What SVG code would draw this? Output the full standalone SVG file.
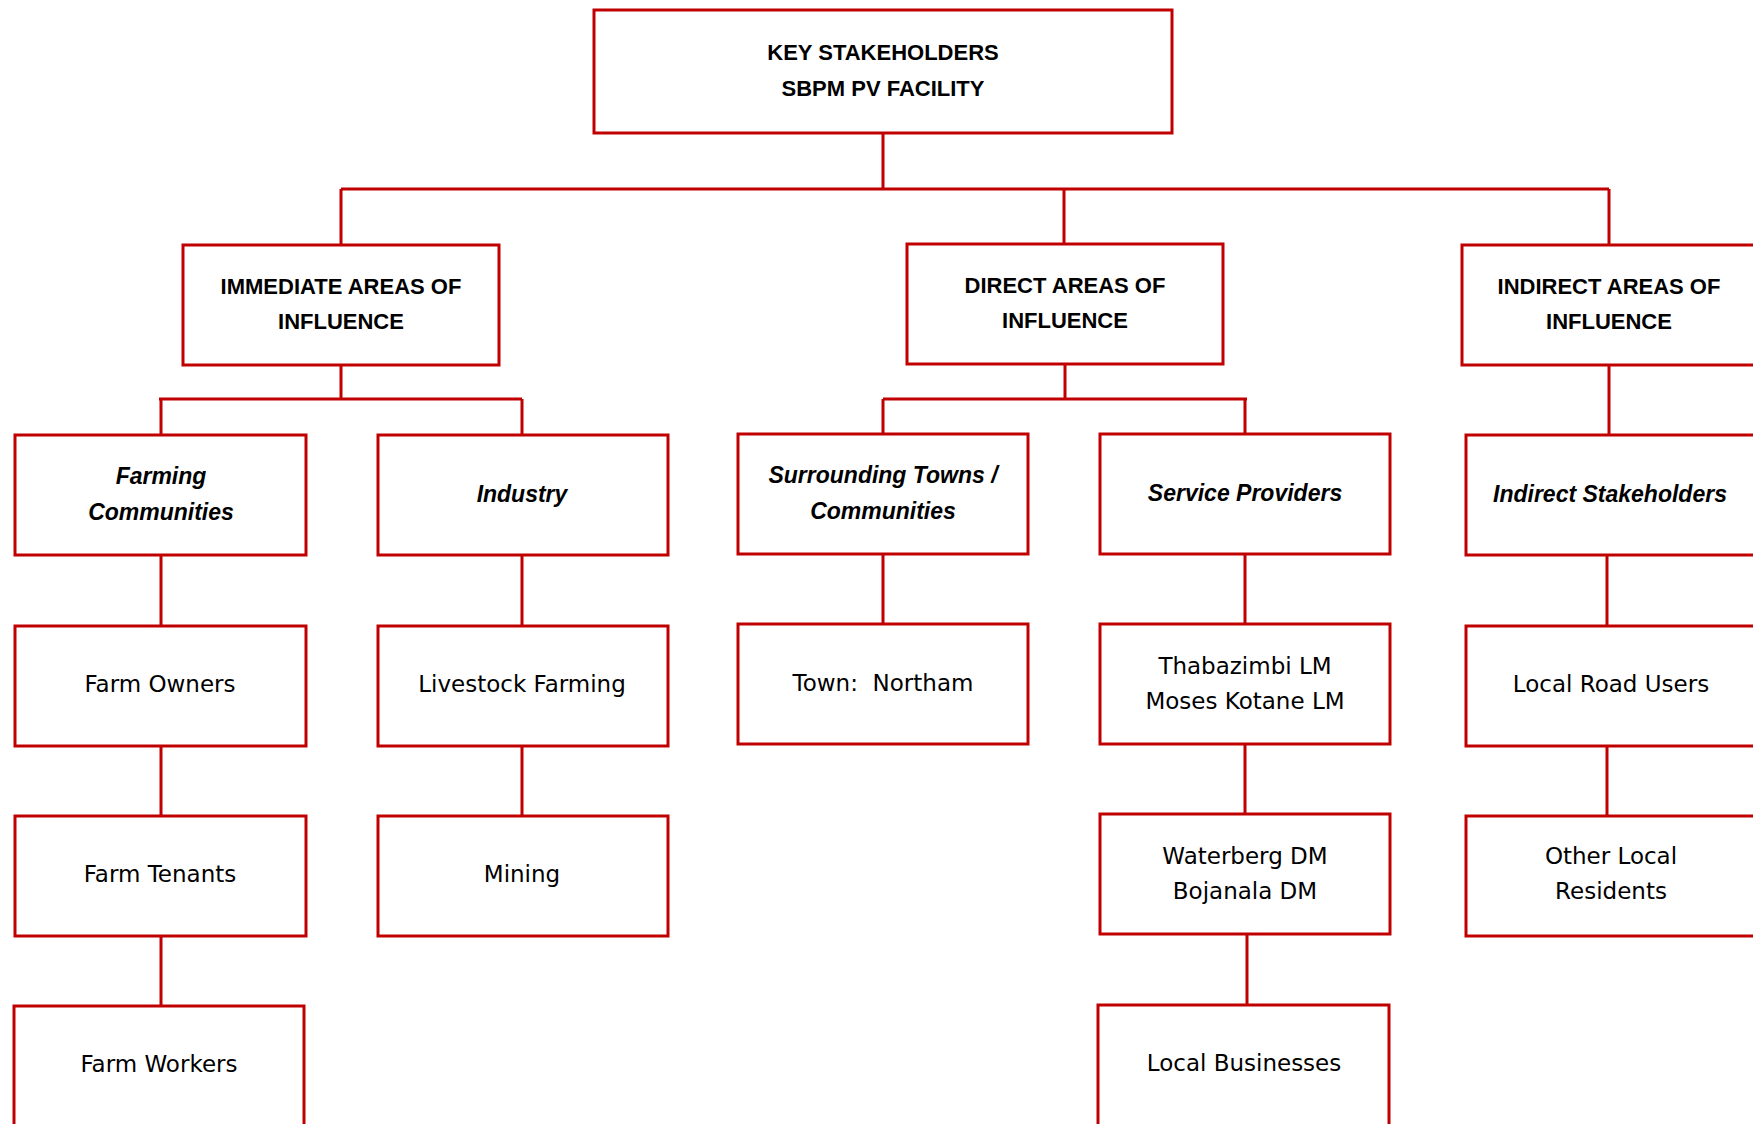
<svg xmlns="http://www.w3.org/2000/svg" width="1753" height="1124" viewBox="0 0 1753 1124">
<style>
rect{fill:#fff;stroke:#C00000;stroke-width:3}
.c{fill:none;stroke:#C00000;stroke-width:3}
text{text-anchor:middle;fill:#000}
.h{font-family:"Liberation Sans",Arial,sans-serif;font-weight:bold;font-size:22px}
.i{font-family:"Liberation Sans",Arial,sans-serif;font-weight:bold;font-style:italic;font-size:23px}
.r{font-family:"DejaVu Sans",sans-serif;font-size:23px}
</style>
<rect x="0" y="0" width="1753" height="1124" style="stroke:none"/>
<g id="connectors">
<path class="c" d="M883 133V189M341 189H1609M341 189V245M1064 189V244M1609 189V245"/>
<path class="c" d="M341 365V399M159 399H522M161 399V435M522 399V435"/>
<path class="c" d="M161 555V626M161 746V816M161 936V1006M522 555V626M522 746V816"/>
<path class="c" d="M1065 364V399M883 399H1247M883 399V434M1245 399V434"/>
<path class="c" d="M883 554V624M1245 554V624M1245 744V814M1247 934V1005"/>
<path class="c" d="M1609 365V435M1607 555V626M1607 746V816"/>
</g>
<g id="key-stakeholders"><rect x="594" y="10" width="578" height="123"/><text class="h" x="883" y="60">KEY STAKEHOLDERS</text><text class="h" x="883" y="96">SBPM PV FACILITY</text></g>
<g id="immediate"><rect x="183" y="245" width="316" height="120"/><text class="h" x="341" y="294">IMMEDIATE AREAS OF</text><text class="h" x="341" y="329">INFLUENCE</text></g>
<g id="direct"><rect x="907" y="244" width="316" height="120"/><text class="h" x="1065" y="293">DIRECT AREAS OF</text><text class="h" x="1065" y="328">INFLUENCE</text></g>
<g id="indirect"><rect x="1462" y="245" width="300" height="120"/><text class="h" x="1609" y="294">INDIRECT AREAS OF</text><text class="h" x="1609" y="329">INFLUENCE</text></g>
<g id="farming"><rect x="15" y="435" width="291" height="120"/><text class="i" x="161" y="484">Farming</text><text class="i" x="161" y="520">Communities</text></g>
<g id="industry"><rect x="378" y="435" width="290" height="120"/><text class="i" x="522" y="502">Industry</text></g>
<g id="surrounding"><rect x="738" y="434" width="290" height="120"/><text class="i" x="883" y="483">Surrounding Towns /</text><text class="i" x="883" y="519">Communities</text></g>
<g id="service"><rect x="1100" y="434" width="290" height="120"/><text class="i" x="1245" y="501">Service Providers</text></g>
<g id="indirect-stakeholders"><rect x="1466" y="435" width="296" height="120"/><text class="i" x="1610" y="502">Indirect Stakeholders</text></g>
<g id="farm-owners"><rect x="15" y="626" width="291" height="120"/><text class="r" x="160" y="692">Farm Owners</text></g>
<g id="farm-tenants"><rect x="15" y="816" width="291" height="120"/><text class="r" x="160" y="882">Farm Tenants</text></g>
<g id="farm-workers"><rect x="14" y="1006" width="290" height="130"/><text class="r" x="159" y="1072">Farm Workers</text></g>
<g id="livestock"><rect x="378" y="626" width="290" height="120"/><text class="r" x="522" y="692">Livestock Farming</text></g>
<g id="mining"><rect x="378" y="816" width="290" height="120"/><text class="r" x="522" y="882">Mining</text></g>
<g id="town"><rect x="738" y="624" width="290" height="120"/><text class="r" x="883" y="691">Town:&#160; Northam</text></g>
<g id="lm"><rect x="1100" y="624" width="290" height="120"/><text class="r" x="1245" y="674">Thabazimbi LM</text><text class="r" x="1245" y="709">Moses Kotane LM</text></g>
<g id="dm"><rect x="1100" y="814" width="290" height="120"/><text class="r" x="1245" y="864">Waterberg DM</text><text class="r" x="1245" y="899">Bojanala DM</text></g>
<g id="businesses"><rect x="1098" y="1005" width="291" height="130"/><text class="r" x="1244" y="1071">Local Businesses</text></g>
<g id="road-users"><rect x="1466" y="626" width="296" height="120"/><text class="r" x="1611" y="692">Local Road Users</text></g>
<g id="residents"><rect x="1466" y="816" width="296" height="120"/><text class="r" x="1611" y="864">Other Local</text><text class="r" x="1611" y="899">Residents</text></g>
</svg>
